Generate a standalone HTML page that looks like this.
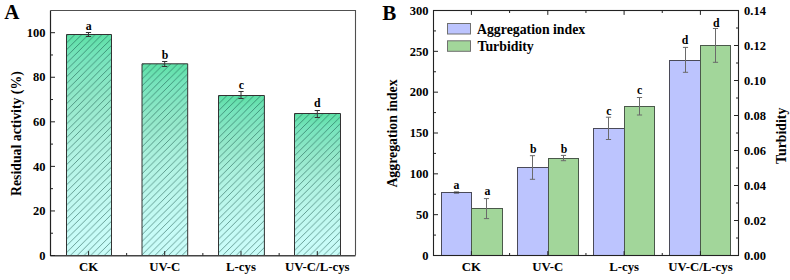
<!DOCTYPE html>
<html><head><meta charset="utf-8"><style>
html,body{margin:0;padding:0;background:#fff;width:790px;height:280px;overflow:hidden}
svg{display:block}
text{font-family:"Liberation Serif",serif;font-weight:bold;fill:#000}
</style></head><body>
<svg width="790" height="280" viewBox="0 0 790 280">
<defs>
<linearGradient id="gA" x1="0" y1="0" x2="0" y2="1"><stop offset="0" stop-color="#5ee0a6"/><stop offset="0.1" stop-color="#76e4bc"/><stop offset="0.3" stop-color="#94e8ca"/><stop offset="0.5" stop-color="#aef2e0"/><stop offset="0.7" stop-color="#bef8ee"/><stop offset="0.9" stop-color="#c8fcf8"/><stop offset="1" stop-color="#cafcf8"/></linearGradient>
</defs>
<pattern id="hA0" patternUnits="userSpaceOnUse" width="6.76" height="6.76" x="68.3" y="34.5">
<path d="M-1,7.76 L7.76,-1 M-1,1 L1,-1 M5.76,7.76 L7.76,5.76" stroke="#0e4a40" stroke-opacity="0.8" stroke-width="0.65" fill="none"/>
</pattern>
<rect x="66.5" y="34.5" width="45" height="221" fill="url(#gA)"/>
<rect x="66.5" y="34.5" width="45" height="221" fill="url(#hA0)"/>
<path d="M66.5,255.5 V34.5 H111.5 V255.5" fill="none" stroke="#333" stroke-width="1"/>
<path d="M88.5,32.5 V36.5 M85.9,32.5 H91.1 M85.9,36.5 H91.1" stroke="#333" stroke-width="1" fill="none"/>
<text x="88.8" y="29.5" text-anchor="middle" font-size="11.8">a</text>
<pattern id="hA1" patternUnits="userSpaceOnUse" width="6.76" height="6.76" x="143.8" y="63.8">
<path d="M-1,7.76 L7.76,-1 M-1,1 L1,-1 M5.76,7.76 L7.76,5.76" stroke="#0e4a40" stroke-opacity="0.8" stroke-width="0.65" fill="none"/>
</pattern>
<rect x="142" y="63.8" width="45.7" height="191.7" fill="url(#gA)"/>
<rect x="142" y="63.8" width="45.7" height="191.7" fill="url(#hA1)"/>
<path d="M142,255.5 V63.8 H187.7 V255.5" fill="none" stroke="#333" stroke-width="1"/>
<path d="M164.7,61.5 V66.5 M162.1,61.5 H167.3 M162.1,66.5 H167.3" stroke="#333" stroke-width="1" fill="none"/>
<text x="165" y="58.6" text-anchor="middle" font-size="11.8">b</text>
<pattern id="hA2" patternUnits="userSpaceOnUse" width="6.76" height="6.76" x="220.3" y="95.5">
<path d="M-1,7.76 L7.76,-1 M-1,1 L1,-1 M5.76,7.76 L7.76,5.76" stroke="#0e4a40" stroke-opacity="0.8" stroke-width="0.65" fill="none"/>
</pattern>
<rect x="218.5" y="95.5" width="45.9" height="160" fill="url(#gA)"/>
<rect x="218.5" y="95.5" width="45.9" height="160" fill="url(#hA2)"/>
<path d="M218.5,255.5 V95.5 H264.4 V255.5" fill="none" stroke="#333" stroke-width="1"/>
<path d="M241,91.5 V98.5 M238.4,91.5 H243.6 M238.4,98.5 H243.6" stroke="#333" stroke-width="1" fill="none"/>
<text x="241.4" y="88.6" text-anchor="middle" font-size="11.8">c</text>
<pattern id="hA3" patternUnits="userSpaceOnUse" width="6.76" height="6.76" x="296.3" y="113.5">
<path d="M-1,7.76 L7.76,-1 M-1,1 L1,-1 M5.76,7.76 L7.76,5.76" stroke="#0e4a40" stroke-opacity="0.8" stroke-width="0.65" fill="none"/>
</pattern>
<rect x="294.5" y="113.5" width="46" height="142" fill="url(#gA)"/>
<rect x="294.5" y="113.5" width="46" height="142" fill="url(#hA3)"/>
<path d="M294.5,255.5 V113.5 H340.5 V255.5" fill="none" stroke="#333" stroke-width="1"/>
<path d="M317.3,110.5 V117.5 M314.7,110.5 H319.9 M314.7,117.5 H319.9" stroke="#333" stroke-width="1" fill="none"/>
<text x="317.2" y="107.2" text-anchor="middle" font-size="11.8">d</text>
<path d="M50.5,10.5 H355.5 V255.5" stroke="#505050" stroke-width="1.1" fill="none"/>
<path d="M50.5,255.75 H355.5" stroke="#444" stroke-width="1.4" fill="none"/>
<path d="M50.5,10.5 V256.1" stroke="#222" stroke-width="1.2" fill="none"/>
<path d="M50.5,255.5 H55" stroke="#222" stroke-width="1"/>
<text x="45.5" y="259.7" text-anchor="end" font-size="12.5">0</text>
<path d="M50.5,233.22 H53" stroke="#222" stroke-width="1"/>
<path d="M50.5,210.94 H55" stroke="#222" stroke-width="1"/>
<text x="45.5" y="215.14" text-anchor="end" font-size="12.5">20</text>
<path d="M50.5,188.66 H53" stroke="#222" stroke-width="1"/>
<path d="M50.5,166.38 H55" stroke="#222" stroke-width="1"/>
<text x="45.5" y="170.58" text-anchor="end" font-size="12.5">40</text>
<path d="M50.5,144.1 H53" stroke="#222" stroke-width="1"/>
<path d="M50.5,121.82 H55" stroke="#222" stroke-width="1"/>
<text x="45.5" y="126.02" text-anchor="end" font-size="12.5">60</text>
<path d="M50.5,99.54 H53" stroke="#222" stroke-width="1"/>
<path d="M50.5,77.26 H55" stroke="#222" stroke-width="1"/>
<text x="45.5" y="81.46" text-anchor="end" font-size="12.5">80</text>
<path d="M50.5,54.98 H53" stroke="#222" stroke-width="1"/>
<path d="M50.5,32.7 H55" stroke="#222" stroke-width="1"/>
<text x="45.5" y="36.9" text-anchor="end" font-size="12.5">100</text>
<path d="M88.6,255.5 V251.1" stroke="#222" stroke-width="1"/>
<text x="88.6" y="270.6" text-anchor="middle" font-size="12.8">CK</text>
<path d="M126.65,255.5 V253" stroke="#222" stroke-width="1"/>
<path d="M164.7,255.5 V251.1" stroke="#222" stroke-width="1"/>
<text x="164.7" y="270.6" text-anchor="middle" font-size="12.8">UV-C</text>
<path d="M202.85,255.5 V253" stroke="#222" stroke-width="1"/>
<path d="M241,255.5 V251.1" stroke="#222" stroke-width="1"/>
<text x="241" y="270.6" text-anchor="middle" font-size="12.8">L-cys</text>
<path d="M279.15,255.5 V253" stroke="#222" stroke-width="1"/>
<path d="M317.3,255.5 V251.1" stroke="#222" stroke-width="1"/>
<text x="317.3" y="270.6" text-anchor="middle" font-size="12.8">UV-C/L-cys</text>
<text transform="translate(20.9,133.6) rotate(-90)" text-anchor="middle" font-size="13.8">Residual activity (%)</text>
<text x="4.3" y="19.2" font-size="21">A</text>
<rect x="441.5" y="192.5" width="30" height="63" fill="#bcc4fe" stroke="#4a4a58" stroke-width="1"/>
<rect x="471.5" y="208.5" width="31" height="47" fill="#a2d69a" stroke="#4a584a" stroke-width="1"/>
<rect x="517.5" y="167.5" width="31" height="88" fill="#bcc4fe" stroke="#4a4a58" stroke-width="1"/>
<rect x="548.5" y="158.5" width="30" height="97" fill="#a2d69a" stroke="#4a584a" stroke-width="1"/>
<rect x="593.5" y="128.5" width="31" height="127" fill="#bcc4fe" stroke="#4a4a58" stroke-width="1"/>
<rect x="624.5" y="106.5" width="30" height="149" fill="#a2d69a" stroke="#4a584a" stroke-width="1"/>
<rect x="669.5" y="60.5" width="31" height="195" fill="#bcc4fe" stroke="#4a4a58" stroke-width="1"/>
<rect x="700.5" y="45.5" width="30" height="210" fill="#a2d69a" stroke="#4a584a" stroke-width="1"/>
<path d="M456.5,192 V193 M453.9,192 H459.1 M453.9,193 H459.1" stroke="#3a3a3a" stroke-width="1" fill="none"/>
<text x="456.5" y="188.7" text-anchor="middle" font-size="11.8">a</text>
<path d="M486.5,198.6 V218.6 M483.9,198.6 H489.1 M483.9,218.6 H489.1" stroke="#6a6a6a" stroke-width="1" fill="none"/>
<text x="487.4" y="194.7" text-anchor="middle" font-size="11.8">a</text>
<path d="M532.5,155.7 V179.3 M529.9,155.7 H535.1 M529.9,179.3 H535.1" stroke="#6a6a6a" stroke-width="1" fill="none"/>
<text x="533.2" y="152.7" text-anchor="middle" font-size="11.8">b</text>
<path d="M563.5,155.4 V160.7 M560.9,155.4 H566.1 M560.9,160.7 H566.1" stroke="#6a6a6a" stroke-width="1" fill="none"/>
<text x="564" y="152.7" text-anchor="middle" font-size="11.8">b</text>
<path d="M608.5,117.2 V139.5 M605.9,117.2 H611.1 M605.9,139.5 H611.1" stroke="#6a6a6a" stroke-width="1" fill="none"/>
<text x="608.9" y="114.5" text-anchor="middle" font-size="11.8">c</text>
<path d="M639.5,97.5 V115 M636.9,97.5 H642.1 M636.9,115 H642.1" stroke="#6a6a6a" stroke-width="1" fill="none"/>
<text x="639.5" y="93.8" text-anchor="middle" font-size="11.8">c</text>
<path d="M685.5,47.4 V72.3 M682.9,47.4 H688.1 M682.9,72.3 H688.1" stroke="#6a6a6a" stroke-width="1" fill="none"/>
<text x="685.1" y="44.3" text-anchor="middle" font-size="11.8">d</text>
<path d="M715.5,28.5 V62.3 M712.9,28.5 H718.1 M712.9,62.3 H718.1" stroke="#6a6a6a" stroke-width="1" fill="none"/>
<text x="716.4" y="27.2" text-anchor="middle" font-size="11.8">d</text>
<rect x="433.5" y="10.5" width="305" height="245" fill="none" stroke="#222" stroke-width="1.1"/>
<path d="M433.5,255.5 H438" stroke="#222" stroke-width="1"/>
<text x="428.6" y="259.7" text-anchor="end" font-size="12.5">0</text>
<path d="M433.5,235.08 H436" stroke="#222" stroke-width="1"/>
<path d="M433.5,214.67 H438" stroke="#222" stroke-width="1"/>
<text x="428.6" y="218.87" text-anchor="end" font-size="12.5">50</text>
<path d="M433.5,194.25 H436" stroke="#222" stroke-width="1"/>
<path d="M433.5,173.83 H438" stroke="#222" stroke-width="1"/>
<text x="428.6" y="178.03" text-anchor="end" font-size="12.5">100</text>
<path d="M433.5,153.42 H436" stroke="#222" stroke-width="1"/>
<path d="M433.5,133 H438" stroke="#222" stroke-width="1"/>
<text x="428.6" y="137.2" text-anchor="end" font-size="12.5">150</text>
<path d="M433.5,112.58 H436" stroke="#222" stroke-width="1"/>
<path d="M433.5,92.17 H438" stroke="#222" stroke-width="1"/>
<text x="428.6" y="96.37" text-anchor="end" font-size="12.5">200</text>
<path d="M433.5,71.75 H436" stroke="#222" stroke-width="1"/>
<path d="M433.5,51.33 H438" stroke="#222" stroke-width="1"/>
<text x="428.6" y="55.53" text-anchor="end" font-size="12.5">250</text>
<path d="M433.5,30.92 H436" stroke="#222" stroke-width="1"/>
<path d="M433.5,10.5 H438" stroke="#222" stroke-width="1"/>
<text x="428.6" y="14.7" text-anchor="end" font-size="12.5">300</text>
<path d="M738.5,255.5 H734" stroke="#222" stroke-width="1"/>
<text x="744" y="259.7" font-size="12.5">0.00</text>
<path d="M738.5,238 H736" stroke="#222" stroke-width="1"/>
<path d="M738.5,220.5 H734" stroke="#222" stroke-width="1"/>
<text x="744" y="224.7" font-size="12.5">0.02</text>
<path d="M738.5,203 H736" stroke="#222" stroke-width="1"/>
<path d="M738.5,185.5 H734" stroke="#222" stroke-width="1"/>
<text x="744" y="189.7" font-size="12.5">0.04</text>
<path d="M738.5,168 H736" stroke="#222" stroke-width="1"/>
<path d="M738.5,150.5 H734" stroke="#222" stroke-width="1"/>
<text x="744" y="154.7" font-size="12.5">0.06</text>
<path d="M738.5,133 H736" stroke="#222" stroke-width="1"/>
<path d="M738.5,115.5 H734" stroke="#222" stroke-width="1"/>
<text x="744" y="119.7" font-size="12.5">0.08</text>
<path d="M738.5,98 H736" stroke="#222" stroke-width="1"/>
<path d="M738.5,80.5 H734" stroke="#222" stroke-width="1"/>
<text x="744" y="84.7" font-size="12.5">0.10</text>
<path d="M738.5,63 H736" stroke="#222" stroke-width="1"/>
<path d="M738.5,45.5 H734" stroke="#222" stroke-width="1"/>
<text x="744" y="49.7" font-size="12.5">0.12</text>
<path d="M738.5,28 H736" stroke="#222" stroke-width="1"/>
<path d="M738.5,10.5 H734" stroke="#222" stroke-width="1"/>
<text x="744" y="14.7" font-size="12.5">0.14</text>
<path d="M471.4,255.5 V251.1" stroke="#222" stroke-width="1"/>
<path d="M509.6,255.5 V253" stroke="#222" stroke-width="1"/>
<path d="M471.4,10.5 V14.9" stroke="#222" stroke-width="1"/>
<path d="M509.6,10.5 V13" stroke="#222" stroke-width="1"/>
<text x="471.4" y="270.6" text-anchor="middle" font-size="12.8">CK</text>
<path d="M547.8,255.5 V251.1" stroke="#222" stroke-width="1"/>
<path d="M585.95,255.5 V253" stroke="#222" stroke-width="1"/>
<path d="M547.8,10.5 V14.9" stroke="#222" stroke-width="1"/>
<path d="M585.95,10.5 V13" stroke="#222" stroke-width="1"/>
<text x="547.8" y="270.6" text-anchor="middle" font-size="12.8">UV-C</text>
<path d="M624.1,255.5 V251.1" stroke="#222" stroke-width="1"/>
<path d="M662.25,255.5 V253" stroke="#222" stroke-width="1"/>
<path d="M624.1,10.5 V14.9" stroke="#222" stroke-width="1"/>
<path d="M662.25,10.5 V13" stroke="#222" stroke-width="1"/>
<text x="624.1" y="270.6" text-anchor="middle" font-size="12.8">L-cys</text>
<path d="M700.4,255.5 V251.1" stroke="#222" stroke-width="1"/>
<path d="M700.4,10.5 V14.9" stroke="#222" stroke-width="1"/>
<text x="700.4" y="270.6" text-anchor="middle" font-size="12.8">UV-C/L-cys</text>
<rect x="447.5" y="23.5" width="23" height="10.5" fill="#bcc4fe" stroke="#707070" stroke-width="1"/>
<rect x="447.5" y="40.8" width="23" height="10.5" fill="#a2d69a" stroke="#707070" stroke-width="1"/>
<text x="477" y="33.8" font-size="13.8">Aggregation index</text>
<text x="477.5" y="50.8" font-size="13.8">Turbidity</text>
<text transform="translate(396.5,133.5) rotate(-90)" text-anchor="middle" font-size="13.8">Aggregation index</text>
<text transform="translate(785.6,135.8) rotate(-90)" text-anchor="middle" font-size="13.8">Turbidity</text>
<text x="382.3" y="19.5" font-size="21">B</text>
</svg>
</body></html>
